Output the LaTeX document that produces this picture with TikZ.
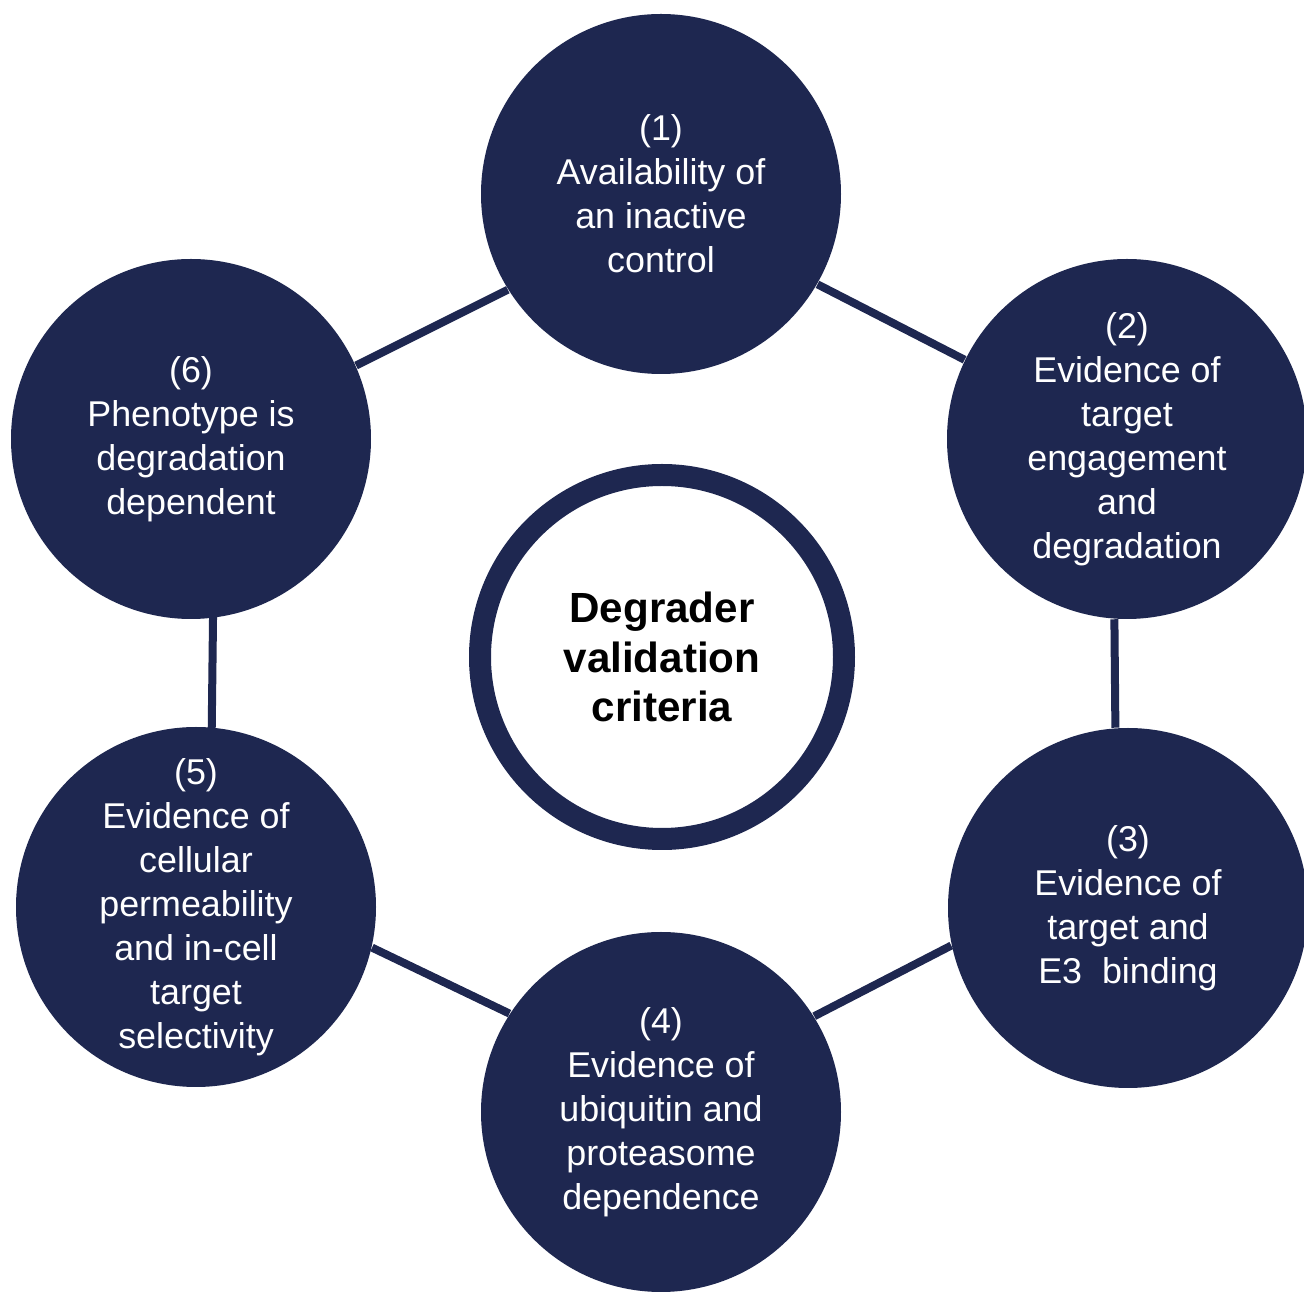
\documentclass[tikz,border=0pt]{standalone}
\usepackage{fontspec}
\setmainfont{Liberation Sans}
\usetikzlibrary{shapes}
\definecolor{navy}{RGB}{30,39,80}
% the text sits in a centred label so that it cannot grow the disc
\tikzset{crit/.style={circle, fill=navy, minimum size=3.6cm, inner sep=0pt,
    label={[text=white, align=center,
            font=\fontsize{10.2}{12.5}\selectfont]center:#1}}}
\tikzstyle{hub} = [circle, draw=navy, fill=white, line width=0.22cm,
    minimum size=3.64cm, inner sep=0pt, align=center,
    font=\bfseries\fontsize{12}{14.2}\selectfont]
\tikzstyle{link} = [draw=navy, line width=0.08cm, shorten <=-2pt, shorten >=-2pt]

\begin{document}
\begin{tikzpicture}
  \useasboundingbox (0,0) rectangle (13.04,-12.94);

  \node[hub] (hub) at (6.62,-6.57) {Degrader\\validation\\criteria};
  \node[crit={(1)\\Availability of\\an inactive\\control}]                          (c1) at (6.61,-1.94)  {};
  \node[crit={(2)\\Evidence of\\target\\engagement\\and\\degradation}]             (c2) at (11.27,-4.39) {};
  \node[crit={(3)\\Evidence of\\target and\\E3~~binding}]                           (c3) at (11.28,-9.08) {};
  \node[crit={(4)\\Evidence of\\ubiquitin and\\proteasome\\dependence}]             (c4) at (6.61,-11.12) {};
  \node[crit={(5)\\Evidence of\\cellular\\permeability\\and in-cell\\target\\selectivity}] (c5) at (1.96,-9.07) {};
  \node[crit={(6)\\Phenotype is\\degradation\\dependent}]                           (c6) at (1.91,-4.39)  {};

  % ring of links between the criteria
  \path[link] (c6.24)  -- (c1.212)
              (c1.330) -- (c2.154)
              (c2.266) -- (c3.94)
              (c3.192) -- (c4.32)
              (c4.147) -- (c5.347)
              (c5.85)  -- (c6.277);
\end{tikzpicture}
\end{document}
